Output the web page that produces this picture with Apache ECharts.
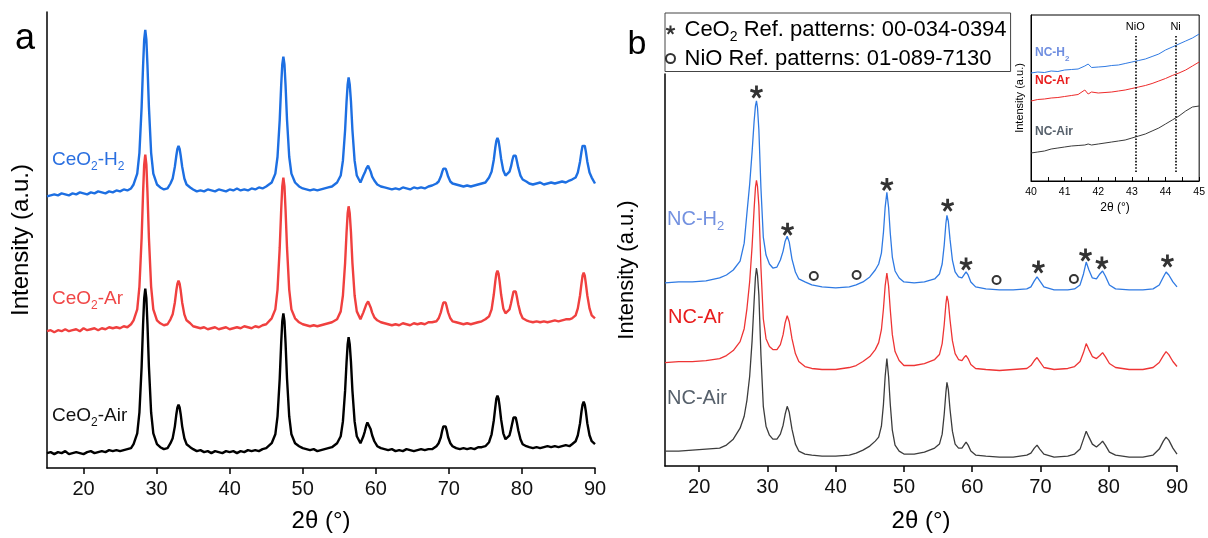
<!DOCTYPE html>
<html>
<head>
<meta charset="utf-8">
<title>XRD patterns</title>
<script src="https://cdn.jsdelivr.net/npm/echarts@6/dist/echarts.min.js"></script>
<style>
  html, body { margin: 0; padding: 0; background: #fff; }
  #chart { width: 1208px; height: 538px; }
</style>
</head>
<body>
<div id="chart"></div>
<script>
// ---- panel a : CeO2 supports, 2theta grid and offset intensities (a.u.)
const aTheta = [
  15, 15.5, 16, 16.5, 17, 17.5, 18, 18.5, 19, 19.5, 20, 20.5, 21, 21.5, 22, 22.5, 23, 23.5, 24, 24.5, 25, 25.5, 26, 26.5,
  26.85, 27.35, 27.65, 27.95, 28.15, 28.3, 28.45, 28.6, 28.75, 28.95, 29.25, 29.55, 30.05,
  30.5, 31, 31.5,
  31.9, 32.2, 32.5, 32.7, 32.85, 33.0, 33.15, 33.3, 33.5, 33.8, 34.1, 34.6,
  35, 35.5, 36, 36.5, 37, 37.5, 38, 38.5, 39, 39.5, 40, 40.5, 41, 41.5, 42, 42.5, 43, 43.5, 44, 44.5, 45,
  45.75, 46.25, 46.55, 46.85, 47.05, 47.2, 47.35, 47.5, 47.65, 47.85, 48.15, 48.45, 48.95,
  49.5, 50, 50.5, 51, 51.5, 52, 52.5, 53, 53.5, 54,
  54.7, 55.2, 55.5, 55.8, 56.0, 56.15, 56.28, 56.43, 56.6, 56.8, 57.1, 57.4, 57.9,
  58.3, 58.5, 58.7, 58.85, 58.95, 59.1, 59.3, 59.5, 59.8, 60.2,
  60.7, 61.2, 61.7, 62.2, 62.7, 63.2, 63.7, 64.2, 64.7, 65.2, 65.7, 66.2, 66.7, 67.2, 67.7,
  68.3, 68.6, 68.9, 69.1, 69.25, 69.4, 69.55, 69.7, 69.9, 70.2, 70.5,
  71, 71.5, 72, 72.5, 73, 73.5, 74, 74.5, 75,
  75.5, 75.85, 76.15, 76.35, 76.5, 76.65, 76.8, 76.95, 77.15, 77.45, 77.75, 78.0, 78.3, 78.5, 78.7, 78.85, 79.0, 79.15, 79.3, 79.5, 79.8, 80.1, 80.6,
  81, 81.5, 82, 82.5, 83, 83.5, 84, 84.5, 85, 85.5, 86, 86.5,
  86.85, 87.35, 87.65, 87.95, 88.15, 88.3, 88.45, 88.6, 88.75, 88.95, 89.25, 89.55, 90
];
const aH2 = [
  274, 275, 276, 275, 277, 276, 275, 277, 276, 278, 277, 276, 278, 277, 279, 278, 277, 279, 278, 280, 279, 281, 280, 282,
  286, 297, 318, 364, 406, 432, 442, 432, 406, 364, 318, 297, 286,
  283, 281, 282,
  287, 292, 304, 315, 322, 325, 322, 315, 304, 292, 286, 283,
  281, 279, 280, 279, 281, 280, 279, 281, 280, 279, 281, 280, 282, 280, 281, 280, 282, 281, 283, 282, 284,
  288, 297, 314, 351, 386, 407, 415, 407, 386, 351, 314, 297, 288,
  284, 282, 281, 280, 281, 280, 281, 282, 283, 284,
  288, 295, 310, 341, 370, 387, 394, 387, 370, 341, 310, 295, 288,
  295, 298, 302, 304, 305, 303, 299, 294, 290, 286,
  284, 283, 282, 281, 282, 281, 283, 282, 281, 283, 282, 283, 282, 284, 285,
  287, 289, 294, 299, 302, 303, 302, 299, 294, 289, 287,
  286, 285, 284, 285, 284, 285, 286, 287, 288,
  293, 299, 311, 323, 330, 333, 330, 323, 312, 300, 295, 295, 299, 304, 311, 315, 317, 315, 310, 303, 295, 291, 289,
  287, 286, 287, 288, 286, 287, 288, 287, 288, 289, 288, 290,
  291, 293, 298, 309, 319, 325, 327, 325, 319, 309, 298, 293, 287
];
const aAr = [
  138, 139, 137, 139, 138, 140, 138, 139, 140, 138, 141, 139, 140, 141, 139, 141, 140, 142, 141, 142, 141, 143, 142, 145,
  149, 160, 183, 232, 278, 306, 316, 306, 278, 232, 183, 160, 149,
  146, 144, 145,
  150, 155, 167, 179, 186, 189, 186, 179, 167, 155, 149, 146,
  143, 142, 141, 142, 140, 141, 142, 140, 141, 142, 140, 141, 142, 141, 143, 142, 141, 143, 142, 144, 145,
  151, 160, 180, 222, 260, 284, 293, 284, 260, 222, 180, 160, 151,
  147, 145, 144, 143, 144, 143, 144, 145, 146, 147,
  150, 158, 174, 207, 238, 257, 264, 257, 238, 207, 174, 158, 150,
  157, 161, 165, 167, 168, 166, 162, 157, 152, 149,
  147, 146, 145, 144, 145, 144, 146, 145, 144, 146, 145, 146, 145, 147, 147,
  148, 151, 157, 163, 167, 168, 167, 163, 157, 151, 148,
  147, 146, 145, 146, 145, 146, 147, 148, 150,
  153, 160, 175, 188, 196, 199, 196, 188, 175, 161, 156, 156, 160, 166, 173, 178, 180, 178, 173, 165, 156, 151, 149,
  148, 147, 148, 147, 148, 147, 148, 149, 148, 149, 150, 150,
  151, 154, 161, 174, 186, 194, 197, 194, 186, 174, 161, 154, 151
];
const aAir = [
  15, 16, 14, 16, 15, 17, 14, 15, 16, 15, 14, 16, 17, 15, 16, 17, 16, 18, 17, 18, 17, 18, 19, 20,
  24, 35, 56, 102, 145, 171, 181, 171, 145, 102, 56, 35, 24,
  21, 19, 20,
  25, 30, 42, 54, 61, 64, 61, 54, 42, 30, 24, 21,
  19, 17, 18, 16, 17, 15, 17, 16, 15, 17, 16, 17, 15, 17, 16, 18, 17, 18, 17, 19, 20,
  25, 34, 52, 90, 126, 148, 156, 148, 126, 90, 52, 34, 25,
  22, 20, 19, 18, 19, 17, 18, 19, 20, 21,
  25, 32, 47, 78, 107, 125, 132, 125, 107, 78, 47, 32, 25,
  32, 37, 43, 46, 47, 45, 39, 33, 27, 22,
  20, 19, 18, 19, 17, 18, 17, 19, 18, 17, 18, 19, 18, 19, 19,
  22, 25, 31, 38, 42, 43, 42, 38, 31, 25, 22,
  20, 19, 20, 19, 20, 19, 21, 21, 22,
  26, 34, 48, 61, 70, 73, 70, 62, 49, 35, 29, 29, 33, 39, 46, 51, 53, 51, 46, 38, 29, 24, 22,
  21, 20, 21, 20, 21, 22, 21, 22, 21, 22, 23, 22,
  24, 27, 33, 45, 57, 64, 67, 64, 57, 45, 33, 27, 24
];

// ---- panel b : Ni/CeO2 catalysts
const bTheta = [
  15, 17, 19, 21, 23, 24, 25, 26, 26.6, 27.0, 27.4, 27.75, 28.05, 28.25, 28.4, 28.55, 28.75, 29.05, 29.4, 29.8,
  30.3, 30.8, 31.4, 31.9, 32.3, 32.6, 32.9, 33.2, 33.6, 34.1, 34.6, 35.5, 36.5, 38, 40, 42, 43, 44, 45, 45.8,
  46.3, 46.7, 47.0, 47.25, 47.5, 47.75, 48.0, 48.3, 48.7, 49.3, 50, 51.5, 53, 54.5, 55.2, 55.6, 55.9, 56.15, 56.3, 56.5,
  56.75, 57.1, 57.5, 58.0, 58.5, 58.8, 59.1, 59.4, 59.8, 60.5, 62, 64, 66, 68, 68.6, 69.1, 69.5, 69.9, 70.5, 72,
  74, 75, 75.8, 76.3, 76.7, 77.1, 77.6, 78.2, 78.7, 79.1, 79.5, 80.1, 81, 83, 85, 86.5, 87.4, 88.0, 88.4, 88.8,
  89.4, 90
];
const bH2 = [
  184, 185, 185, 186, 189, 192, 197, 206, 224, 254, 283, 315, 346, 362, 367, 360, 338, 280, 230, 212,
  203, 199, 200, 207, 216, 226, 231, 225, 208, 195, 188, 185, 182, 180, 179, 180, 182, 185, 190, 197,
  203, 214, 235, 260, 275, 260, 234, 210, 196, 189, 185, 184, 185, 188, 193, 203, 222, 244, 252, 246,
  228, 207, 195, 190, 189, 192, 195, 192, 185, 180, 178, 177, 177, 178, 180, 186, 190, 186, 180, 177,
  177, 178, 182, 193, 205, 197, 189, 188, 193, 196, 191, 182, 178, 177, 177, 178, 182, 190, 195, 192,
  185, 180
];
const bAr = [
  104, 105, 105, 106, 108, 111, 116, 125, 138, 158, 185, 220, 258, 280, 287, 281, 262, 200, 148, 128,
  120, 117, 117, 122, 132, 144, 151, 145, 128, 113, 105, 100, 98, 97, 97, 99, 101, 105, 110, 117,
  124, 137, 158, 181, 194, 181, 157, 132, 115, 106, 101, 101, 103, 107, 112, 123, 142, 163, 171, 165,
  147, 126, 113, 107, 106, 109, 111, 108, 102, 98, 97, 96, 97, 98, 101, 106, 109, 105, 99, 97,
  98, 100, 105, 114, 123, 117, 110, 108, 111, 114, 110, 103, 99, 97, 97, 99, 104, 111, 115, 112,
  105, 100
];
const bAir = [
  15, 15, 16, 17, 18, 21, 27, 38, 50, 66, 90, 125, 165, 190, 199, 192, 172, 112, 60, 40,
  31, 27, 27, 32, 41, 52, 60, 54, 37, 22, 15, 12, 11, 10, 10, 11, 13, 16, 20, 25,
  29, 40, 62, 90, 108, 90, 62, 36, 21, 15, 12, 12, 14, 18, 22, 32, 52, 74, 84, 77,
  57, 35, 22, 18, 18, 21, 24, 21, 15, 11, 10, 9, 9, 11, 13, 18, 21, 17, 12, 9,
  10, 12, 17, 27, 35, 29, 22, 19, 22, 25, 21, 14, 11, 9, 9, 11, 17, 25, 29, 26,
  18, 12
];

// reflection markers above the NC-H2 pattern
const ceo2Theta = [28.4, 32.95, 47.5, 56.4, 59.1, 69.7, 76.6, 79.0, 88.6];
const ceo2Y = [376, 238, 283, 262, 203, 200, 212, 204, 206];
const nioTheta = [36.8, 43.07, 63.57, 74.9];
const nioY = [191, 192, 187, 188];

// ---- inset : 40-45 deg zoom
const iTheta = [40, 40.2, 40.4, 40.6, 40.8, 41, 41.2, 41.4, 41.6, 41.7, 41.8, 42, 42.2, 42.4, 42.6, 42.8, 43, 43.2, 43.4, 43.6, 43.8, 44, 44.2, 44.4, 44.6, 44.8, 45];
const iH2 = [108, 109, 108.5, 110, 109.5, 111, 111.5, 112, 115, 117, 113.5, 114, 114.5, 115.5, 116, 117.5, 119, 120.5, 122, 124.5, 127, 131, 134, 137, 140, 143, 147];
const iAr = [80, 81.5, 82, 83, 83.5, 84.5, 85.5, 86.5, 91, 87, 89, 88, 88.5, 89, 90, 91, 92.5, 94, 95.5, 97.5, 100, 102.5, 105.5, 108, 111, 115, 119];
const iAir = [28, 29, 30, 32, 33, 34, 35, 35.5, 36, 37, 36, 37, 38, 39, 40, 41, 43, 45, 47, 50, 53, 57, 61, 65, 70, 74, 75];
const refTheta = [43.1, 44.3];
const refNames = ['NiO', 'Ni'];

const mainTicks = [20, 30, 40, 50, 60, 70, 80, 90];
const insetTicks = [40, 40.5, 41, 41.5, 42, 42.5, 43, 43.5, 44, 44.5, 45];
const insetLabels = [40, 41, 42, 43, 44, 45];

const FONT = 'Liberation Sans, Arial, sans-serif';
const CEO2_NAME = 'CeO2 Ref. patterns: 00-034-0394';
const NIO_NAME = 'NiO Ref. patterns: 01-089-7130';
// 5-armed bold asterisk
const STAR = 'path://M-1.1,0.5L1.1,0.5L1.1,-5L-1.1,-5Z' +
  'M-0.816,-0.891L-0.136,1.201L5.095,-0.499L4.415,-2.591Z' +
  'M0.596,-1.052L-1.184,0.242L2.049,4.692L3.829,3.398Z' +
  'M1.184,0.242L-0.596,-1.052L-3.829,3.398L-2.049,4.692Z' +
  'M0.136,1.201L0.816,-0.891L-4.415,-2.591L-5.095,-0.499Z';

function pairs (xs, ys) {
  return xs.map((x, i) => [x, ys[i]]);
}

function lineSeries (name, xs, ys, color, width, axis) {
  return {
    name: name,
    type: 'line',
    xAxisIndex: axis,
    yAxisIndex: axis,
    data: pairs(xs, ys),
    showSymbol: false,
    symbol: 'none',
    silent: true,
    lineStyle: { color: color, width: width },
    itemStyle: { color: color }
  };
}

function mainXAxis (grid, ticks, gap) {
  return {
    type: 'value',
    gridIndex: grid,
    min: 15,
    max: 90,
    splitLine: { show: false },
    axisLine: { show: true, onZero: false, lineStyle: { color: '#000', width: 1.5 } },
    axisTick: { show: true, customValues: ticks, length: 6, lineStyle: { color: '#000', width: 1.5 } },
    axisLabel: { customValues: ticks, fontSize: 20, color: '#111', margin: 11, fontFamily: FONT },
    name: '2θ (°)',
    nameLocation: 'middle',
    nameGap: gap,
    nameTextStyle: { fontSize: 24, color: '#000', fontFamily: FONT }
  };
}

function mainYAxis (grid, max, gap, size) {
  return {
    type: 'value',
    gridIndex: grid,
    min: 0,
    max: max,
    splitLine: { show: false },
    axisLine: { show: true, onZero: false, lineStyle: { color: '#000', width: 1.5 } },
    axisTick: { show: false },
    axisLabel: { show: false },
    name: 'Intensity (a.u.)',
    nameLocation: 'middle',
    nameGap: gap,
    nameTextStyle: { fontSize: size, color: '#000', fontFamily: FONT }
  };
}

// rich text with subscripts, e.g. CeO{s|2}
function richStyle (size) {
  return {
    t: { fontSize: size, lineHeight: size + 7, fontFamily: FONT },
    s: { fontSize: Math.round(size * 0.65), lineHeight: Math.round(size * 0.65), verticalAlign: 'bottom', fontFamily: FONT }
  };
}

function label (x, y, text, color, size, weight) {
  const rich = richStyle(size);
  if (weight) { rich.t.fontWeight = weight; rich.s.fontWeight = weight; }
  return {
    type: 'text',
    x: x,
    y: y,
    silent: true,
    style: { text: text, fill: color, verticalAlign: 'middle', align: 'left', rich: rich }
  };
}

const chart = echarts.init(document.getElementById('chart'), null, { renderer: 'canvas' });

const option = {
  animation: false,
  backgroundColor: '#fff',
  textStyle: { fontFamily: FONT },
  grid: [
    { left: 47, top: 12, width: 548, height: 460 },
    { left: 665, top: 74, width: 512, height: 394 },
    { left: 1031, top: 15, width: 171, height: 166, show: true, borderColor: '#000', borderWidth: 1, backgroundColor: '#fff' }
  ],
  xAxis: [
    mainXAxis(0, mainTicks, 41),
    mainXAxis(1, mainTicks, 43),
    {
      type: 'value',
      gridIndex: 2,
      min: 40,
      max: 45,
      splitLine: { show: false },
      axisLine: { show: true, lineStyle: { color: '#000', width: 1 } },
      axisTick: { show: true, inside: true, customValues: insetTicks, length: 4, lineStyle: { color: '#000' } },
      axisLabel: { customValues: insetLabels, fontSize: 10.5, color: '#000', margin: 6, fontFamily: FONT },
      name: '2θ (°)',
      nameLocation: 'middle',
      nameGap: 21,
      nameTextStyle: { fontSize: 12, color: '#000', fontFamily: FONT }
    }
  ],
  yAxis: [
    mainYAxis(0, 460, 14, 24),
    mainYAxis(1, 394, 27, 22),
    {
      type: 'value',
      gridIndex: 2,
      min: 0,
      max: 166,
      splitLine: { show: false },
      axisLine: { show: true, lineStyle: { color: '#000', width: 1 } },
      axisTick: { show: false },
      axisLabel: { show: false },
      name: 'Intensity (a.u.)',
      nameLocation: 'middle',
      nameGap: 6,
      nameTextStyle: { fontSize: 11, color: '#000', fontFamily: FONT }
    }
  ],
  legend: {
    data: [CEO2_NAME, NIO_NAME],
    orient: 'vertical',
    left: 665,
    top: 13,
    padding: [6, 4, 2, 0],
    itemGap: 3,
    itemWidth: 18,
    itemHeight: 9,
    borderColor: '#444',
    borderWidth: 1,
    selectedMode: false,
    formatter: function (name) {
      if (name === CEO2_NAME) return '{t|CeO}{s|2}{t| Ref. patterns: 00-034-0394}';
      return '{t|NiO Ref. patterns: 01-089-7130}';
    },
    textStyle: { color: '#000', fontSize: 22, rich: richStyle(22) }
  },
  series: [
    lineSeries('CeO2-H2', aTheta, aH2, '#1d6fe2', 2.4, 0),
    lineSeries('CeO2-Ar', aTheta, aAr, '#f0403f', 2.4, 0),
    lineSeries('CeO2-Air', aTheta, aAir, '#000000', 2.4, 0),
    lineSeries('NC-H2', bTheta, bH2, '#2f7ae3', 1.3, 1),
    lineSeries('NC-Ar', bTheta, bAr, '#ee3434', 1.3, 1),
    lineSeries('NC-Air', bTheta, bAir, '#3c3c3c', 1.3, 1),
    {
      name: CEO2_NAME,
      type: 'scatter',
      xAxisIndex: 1,
      yAxisIndex: 1,
      symbol: STAR,
      symbolSize: 13,
      silent: true,
      itemStyle: { color: '#000' },
      data: pairs(ceo2Theta, ceo2Y)
    },
    {
      name: NIO_NAME,
      type: 'scatter',
      xAxisIndex: 1,
      yAxisIndex: 1,
      symbol: 'emptyCircle',
      symbolSize: 8,
      silent: true,
      itemStyle: { color: '#000', borderColor: '#000', borderWidth: 2 },
      data: pairs(nioTheta, nioY)
    },
    lineSeries('inset NC-H2', iTheta, iH2, '#2f7ae3', 1, 2),
    lineSeries('inset NC-Ar', iTheta, iAr, '#ee2a2a', 1, 2),
    Object.assign(lineSeries('inset NC-Air', iTheta, iAir, '#3a3a3a', 1, 2), {
      markLine: {
        silent: true,
        symbol: 'none',
        lineStyle: { type: 'dotted', color: '#000', width: 1.6 },
        label: { position: 'end', formatter: '{b}', fontSize: 11, color: '#000', distance: 3, fontFamily: FONT },
        data: refTheta.map((t, i) => [{ name: refNames[i], coord: [t, 9] }, { coord: [t, 146] }])
      }
    })
  ],
  graphic: [
    { type: 'text', x: 25, y: 39, silent: true, style: { text: 'a', fill: '#000', font: '36px ' + FONT, align: 'center', verticalAlign: 'middle' } },
    { type: 'text', x: 637, y: 45, silent: true, style: { text: 'b', fill: '#000', font: '34px ' + FONT, align: 'center', verticalAlign: 'middle' } },
    label(52, 160, '{t|CeO}{s|2}{t|-H}{s|2}', '#2a6fe0', 19),
    label(52, 299, '{t|CeO}{s|2}{t|-Ar}', '#f04646', 19),
    label(52, 416, '{t|CeO}{s|2}{t|-Air}', '#111111', 19),
    label(667, 219, '{t|NC-H}{s|2}', '#7391e0', 20),
    label(668, 317, '{t|NC-Ar}', '#e81c1c', 20),
    label(667, 398, '{t|NC-Air}', '#56606b', 20),
    label(1035, 53, '{t|NC-H}{s|2}', '#6f8ee0', 12, 'bold'),
    label(1035, 81, '{t|NC-Ar}', '#e81c1c', 12, 'bold'),
    label(1035, 132, '{t|NC-Air}', '#56606b', 12, 'bold')
  ]
};

chart.setOption(option);
</script>
</body>
</html>
